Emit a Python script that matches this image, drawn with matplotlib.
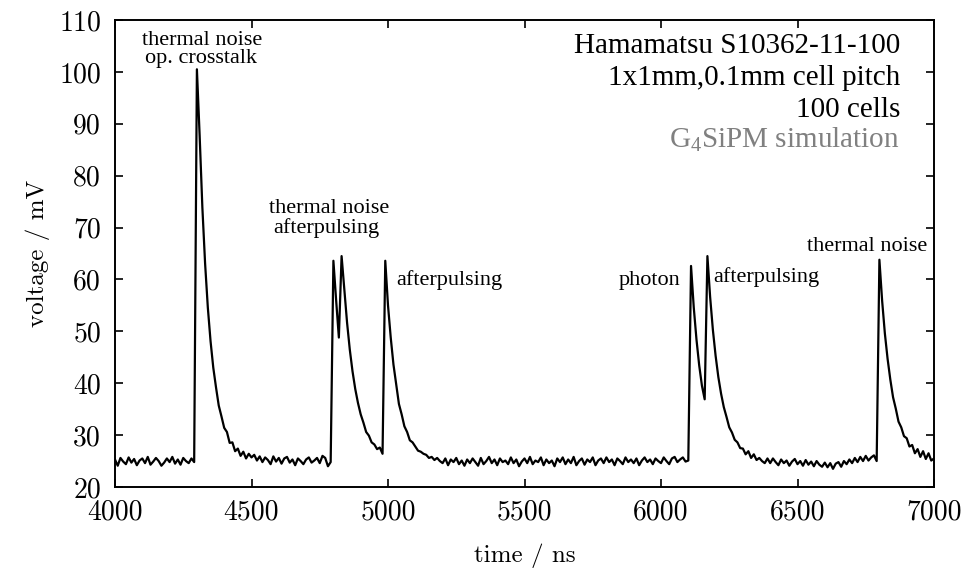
import matplotlib
matplotlib.use("Agg")
import matplotlib.pyplot as plt
import numpy as np

plt.rcParams["mathtext.fontset"] = "custom"
plt.rcParams["mathtext.rm"] = "Liberation Serif"
plt.rcParams["axes.formatter.use_mathtext"] = True

# simulated SiPM output, one sample every 10 ns from 4000 to 7000 ns
t_start, t_step = 4000, 10
voltage = [
    25.3, 24.1, 25.6, 24.9, 24.4, 25.7, 24.7, 25.4, 24.2, 25.1,   # 4000
    25.5, 24.6, 25.8, 24.3, 24.9, 25.6, 25.0, 24.1, 24.7, 25.5,   # 4100
    24.8, 25.8, 24.5, 25.3, 24.3, 25.6, 25.0, 24.6, 25.5, 24.8,   # 4200
    100.5, 87.8, 73.9, 63.1, 54.6, 48.1, 43.0, 39.2, 35.7, 33.6,  # 4300
    31.4, 30.6, 28.5, 28.6, 26.9, 27.4, 26.0, 26.8, 25.5, 26.4,   # 4400
    25.7, 26.2, 25.1, 25.9, 24.8, 25.7, 25.2, 24.4, 25.9, 24.9,   # 4500
    25.6, 24.5, 25.5, 25.8, 24.7, 25.3, 24.2, 25.5, 25.0, 24.4,   # 4600
    25.3, 25.7, 24.7, 25.1, 25.6, 24.6, 26.0, 25.6, 24.0, 24.8,   # 4700
    63.6, 56.0, 48.8, 64.5, 58.2, 51.7, 46.5, 42.3, 38.9, 36.2,   # 4800
    34.0, 32.4, 30.6, 29.9, 28.6, 28.2, 27.3, 27.6, 26.4, 63.6,   # 4900
    55.0, 48.8, 43.6, 39.8, 36.0, 34.0, 31.7, 30.6, 29.0, 28.6,   # 5000
    27.8, 27.0, 26.8, 26.4, 26.2, 25.6, 25.8, 25.2, 25.6, 25.0,   # 5100
    24.6, 25.5, 24.2, 25.3, 24.8, 25.6, 24.4, 25.1, 24.1, 25.3,   # 5200
    24.6, 25.5, 24.8, 24.1, 25.6, 24.4, 25.0, 25.8, 24.6, 25.3,   # 5300
    24.2, 25.5, 24.8, 25.1, 24.4, 25.7, 24.6, 25.3, 24.0, 24.9,   # 5400
    25.5, 24.6, 25.8, 24.4, 25.1, 24.8, 25.7, 24.2, 25.3, 24.6,   # 5500
    25.1, 24.0, 25.5, 24.8, 25.7, 24.4, 25.3, 24.6, 25.8, 24.2,   # 5600
    25.0, 25.5, 24.3, 25.3, 24.8, 25.7, 24.2, 25.1, 25.5, 24.6,   # 5700
    25.7, 24.8, 25.3, 24.2, 25.5, 25.0, 24.4, 25.7, 24.8, 25.3,   # 5800
    24.6, 25.5, 24.2, 25.1, 25.7, 24.8, 25.3, 24.4, 25.5, 25.0,   # 5900
    24.6, 25.7, 25.0, 24.4, 25.5, 25.8, 24.8, 25.3, 25.7, 24.9,   # 6000
    25.1, 62.6, 54.6, 48.4, 43.4, 39.5, 36.9, 64.5, 56.6, 50.3,   # 6100
    45.3, 41.2, 38.0, 35.4, 33.5, 31.5, 30.5, 29.1, 28.6, 27.5,   # 6200
    27.4, 26.3, 26.9, 25.6, 26.3, 25.2, 25.6, 25.0, 24.6, 25.5,   # 6300
    24.6, 25.5, 24.8, 24.2, 25.3, 24.6, 25.1, 24.1, 24.9, 25.4,   # 6400
    24.4, 25.0, 24.1, 25.2, 24.3, 24.9, 24.0, 25.0, 24.3, 23.9,   # 6500
    24.7, 23.8, 24.6, 23.5, 24.5, 24.8, 23.9, 25.0, 24.4, 25.3,   # 6600
    24.6, 25.6, 24.8, 25.8, 25.0, 26.0, 25.1, 25.7, 26.1, 25.0,   # 6700
    63.8, 55.9, 49.6, 44.7, 40.7, 37.3, 35.1, 32.6, 31.5, 29.8,   # 6800
    29.4, 27.8, 28.1, 26.5, 27.3, 25.8, 26.9, 25.4, 26.5, 25.1,   # 6900
    25.5,                                                         # 7000
]

# pulse labels: text, time, voltage, horizontal alignment
labels_text = ["thermal noise", "op. crosstalk", "thermal noise", "afterpulsing",
               "afterpulsing", "photon", "afterpulsing", "thermal noise"]
labels_t = [4318, 4314, 4784, 4774, 5029, 6070, 6192, 6755]
labels_v = [105.2, 101.7, 72.8, 69.0, 58.9, 58.9, 59.6, 65.4]
labels_ha = ["center", "center", "center", "center", "left", "right", "left", "center"]

info_lines = ["Hamamatsu S10362-11-100", "1x1mm,0.1mm cell pitch", "100 cells"]
info_v = [103.6, 97.5, 91.3]
sim_label = r"G$_\mathrm{4}$SiPM simulation"
sim_v = 85.4
info_t = 6875

x_ticks = [4000, 4500, 5000, 5500, 6000, 6500, 7000]
y_ticks = [20, 30, 40, 50, 60, 70, 80, 90, 100, 110]

time = t_start + t_step * np.arange(len(voltage))

fig = plt.figure(figsize=(9.63, 5.74), dpi=100)
ax = fig.add_axes([115 / 963, 1 - 487 / 574, 819 / 963, 467 / 574])

ax.plot(time, voltage, color="black", lw=1.6)

ax.set_xlim(4000, 7000)
ax.set_ylim(20, 110)
ax.set_xticks(x_ticks)
ax.set_yticks(y_ticks)
ax.set_xticklabels([str(x) for x in x_ticks], family="cmr10", fontsize=20)
ax.set_yticklabels([str(y) for y in y_ticks], family="cmr10", fontsize=20)
ax.tick_params(direction="in", length=6, width=1.2, top=True, right=True)
ax.tick_params(axis="x", pad=9)
ax.tick_params(axis="y", pad=10)
for s in ax.spines.values():
    s.set_linewidth(1.4)

ax.set_xlabel("time / ns", family="cmr10", fontsize=18, labelpad=13)
ax.set_ylabel("voltage / mV", family="cmr10", fontsize=18, labelpad=7)

for txt, t, v, ha in zip(labels_text, labels_t, labels_v, labels_ha):
    ax.text(t, v, txt, ha=ha, va="baseline", family="Liberation Serif", fontsize=16)

for txt, v in zip(info_lines, info_v):
    ax.text(info_t, v, txt, ha="right", va="baseline", family="Liberation Serif", fontsize=21)
ax.text(info_t, sim_v, sim_label, ha="right", va="baseline", family="Liberation Serif",
        fontsize=21, color="#808080")

fig.savefig("out.png", dpi=100)
